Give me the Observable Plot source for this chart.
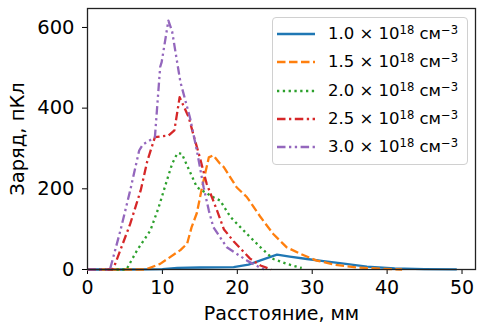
<!DOCTYPE html>
<html><head><meta charset="utf-8">
<script src="https://cdn.jsdelivr.net/npm/d3@7"></script>
<script src="https://cdn.jsdelivr.net/npm/@observablehq/plot@0.6"></script>
<style>
body{margin:0;background:#fff;}
#wrap{position:relative;width:477px;height:323px;font-family:"DejaVu Sans",sans-serif;}
#legend{position:absolute;left:272px;top:17px;width:196px;height:148px;box-sizing:border-box;border:1px solid #d0d0d0;border-radius:4px;background:rgba(255,255,255,0.8);}
.sw{position:absolute;left:4px;}
.lab{position:absolute;left:55px;font-size:16.5px;line-height:20px;white-space:nowrap;color:#000;}
.lab sup{font-size:70%;vertical-align:0.45em;line-height:0;}
</style>
</head><body>
<div id="wrap"></div>
<script>
// Series data (distance in mm, charge in pC)
const densities = ["1.0", "1.5", "2.0", "2.5", "3.0"];
const colors = ["#1f77b4", "#ff7f0e", "#2ca02c", "#d62728", "#9467bd"];
const dashes = ["none", "8.5,3.5", "2.3,3.5", "8.5,3.5,2.3,3.5", "8.5,3.5,2.3,3.5,2.3,3.5"];

const x10 = [0, 5, 10, 12, 15, 19.5, 21.5, 23, 25.3, 27, 29.3, 31.5, 33.7, 37.3, 41, 45, 49.3];
const y10 = [0, 0, 1, 4, 5, 6, 12, 22, 37, 32, 26, 21, 16, 7, 3, 1, 0.5];

const x15 = [0, 7.8, 9.7, 12.4, 13.3, 13.9, 14.6, 15.3, 16.2, 16.8, 17.7, 18.2, 19.9, 21.3, 23.1, 24.8, 26.6, 28.4, 30.6, 33, 36, 39, 42];
const y15 = [0, 0, 14, 48, 64, 105, 140, 204, 278, 283, 262, 254, 204, 179, 130, 88, 55, 39, 22, 12, 5, 2, 0];

const x20 = [0, 5.2, 6.6, 8.4, 9.5, 10.6, 11.3, 12.0, 12.6, 13.0, 14.6, 15.3, 16.8, 17.7, 19.1, 21.3, 23.1, 24.8, 26.6, 28.1, 28.6];
const y20 = [0, 0, 47, 97, 154, 221, 262, 288, 287, 270, 204, 196, 179, 171, 130, 88, 55, 26, 14, 6, 4];

const x25 = [0, 3.3, 3.7, 5.7, 7.1, 8.0, 9.0, 10.8, 11.6, 12.3, 13.5, 14.2, 15.0, 15.9, 17.3, 18.2, 19.5, 21.7, 23.1, 24.5];
const y25 = [0, 0, 14, 113, 196, 270, 328, 332, 345, 427, 378, 330, 278, 213, 146, 100, 70, 27, 10, 0];

const x30 = [0, 3.0, 4.4, 5.7, 6.9, 7.4, 9.0, 9.7, 9.9, 10.8, 11.3, 12.4, 13.7, 14.6, 15.5, 16.2, 16.8, 18.6, 21.3, 23.3, 24.0];
const y30 = [0, 0, 97, 196, 295, 310, 328, 502, 514, 617, 590, 465, 375, 295, 204, 146, 105, 55, 22, 2, 0];

const xTicks = [0, 10, 20, 30, 40, 50];
const yTicks = [0, 200, 400, 600];

const series = [[x10, y10], [x15, y15], [x20, y20], [x25, y25], [x30, y30]];

const lineMarks = series.map(([xs, ys], i) =>
  Plot.line(xs.map((x, j) => ({x, y: ys[j]})), {
    x: "x", y: "y",
    stroke: colors[i],
    strokeWidth: 2.3,
    strokeDasharray: dashes[i],
    strokeLinecap: "butt",
    strokeLinejoin: "round"
  })
);

const chart = Plot.plot({
  width: 477, height: 323,
  marginLeft: 87, marginRight: 2, marginTop: 8, marginBottom: 54,
  style: {fontFamily: "DejaVu Sans, sans-serif", fontSize: "19px", color: "#000", background: "#fff"},
  x: {domain: [0, 51.8]},
  y: {domain: [0, 647]},
  marks: [
    Plot.axisX({ticks: xTicks, label: "Расстояние, мм", labelAnchor: "center", labelArrow: "none", labelOffset: 50, tickSize: 5, tickPadding: 6, fontSize: 19}),
    Plot.axisY({ticks: yTicks, label: "Заряд, пКл", labelAnchor: "center", labelArrow: "none", labelOffset: 77, tickSize: 5, tickPadding: 8, fontSize: 19.5}),
    ...lineMarks,
    Plot.frame({stroke: "#222", strokeWidth: 1.3})
  ]
});
const wrap = document.getElementById("wrap");
wrap.appendChild(chart);

// Legend
const legend = document.createElement("div");
legend.id = "legend";
densities.forEach((d, i) => {
  const cy = 15.7 + i * 28.4;
  const svgNS = "http://www.w3.org/2000/svg";
  const svg = document.createElementNS(svgNS, "svg");
  svg.setAttribute("class", "sw");
  svg.setAttribute("width", 38); svg.setAttribute("height", 6);
  svg.style.top = (cy - 3) + "px";
  const ln = document.createElementNS(svgNS, "line");
  ln.setAttribute("x1", 0); ln.setAttribute("x2", 38);
  ln.setAttribute("y1", 3); ln.setAttribute("y2", 3);
  ln.setAttribute("stroke", colors[i]);
  ln.setAttribute("stroke-width", 2.3);
  if (dashes[i] !== "none") ln.setAttribute("stroke-dasharray", dashes[i]);
  svg.appendChild(ln);
  legend.appendChild(svg);
  const lab = document.createElement("div");
  lab.className = "lab";
  lab.style.top = (cy - 10) + "px";
  lab.innerHTML = `${d} × 10<sup>18</sup> см<sup>−3</sup>`;
  legend.appendChild(lab);
});
wrap.appendChild(legend);
</script>
</body></html>
